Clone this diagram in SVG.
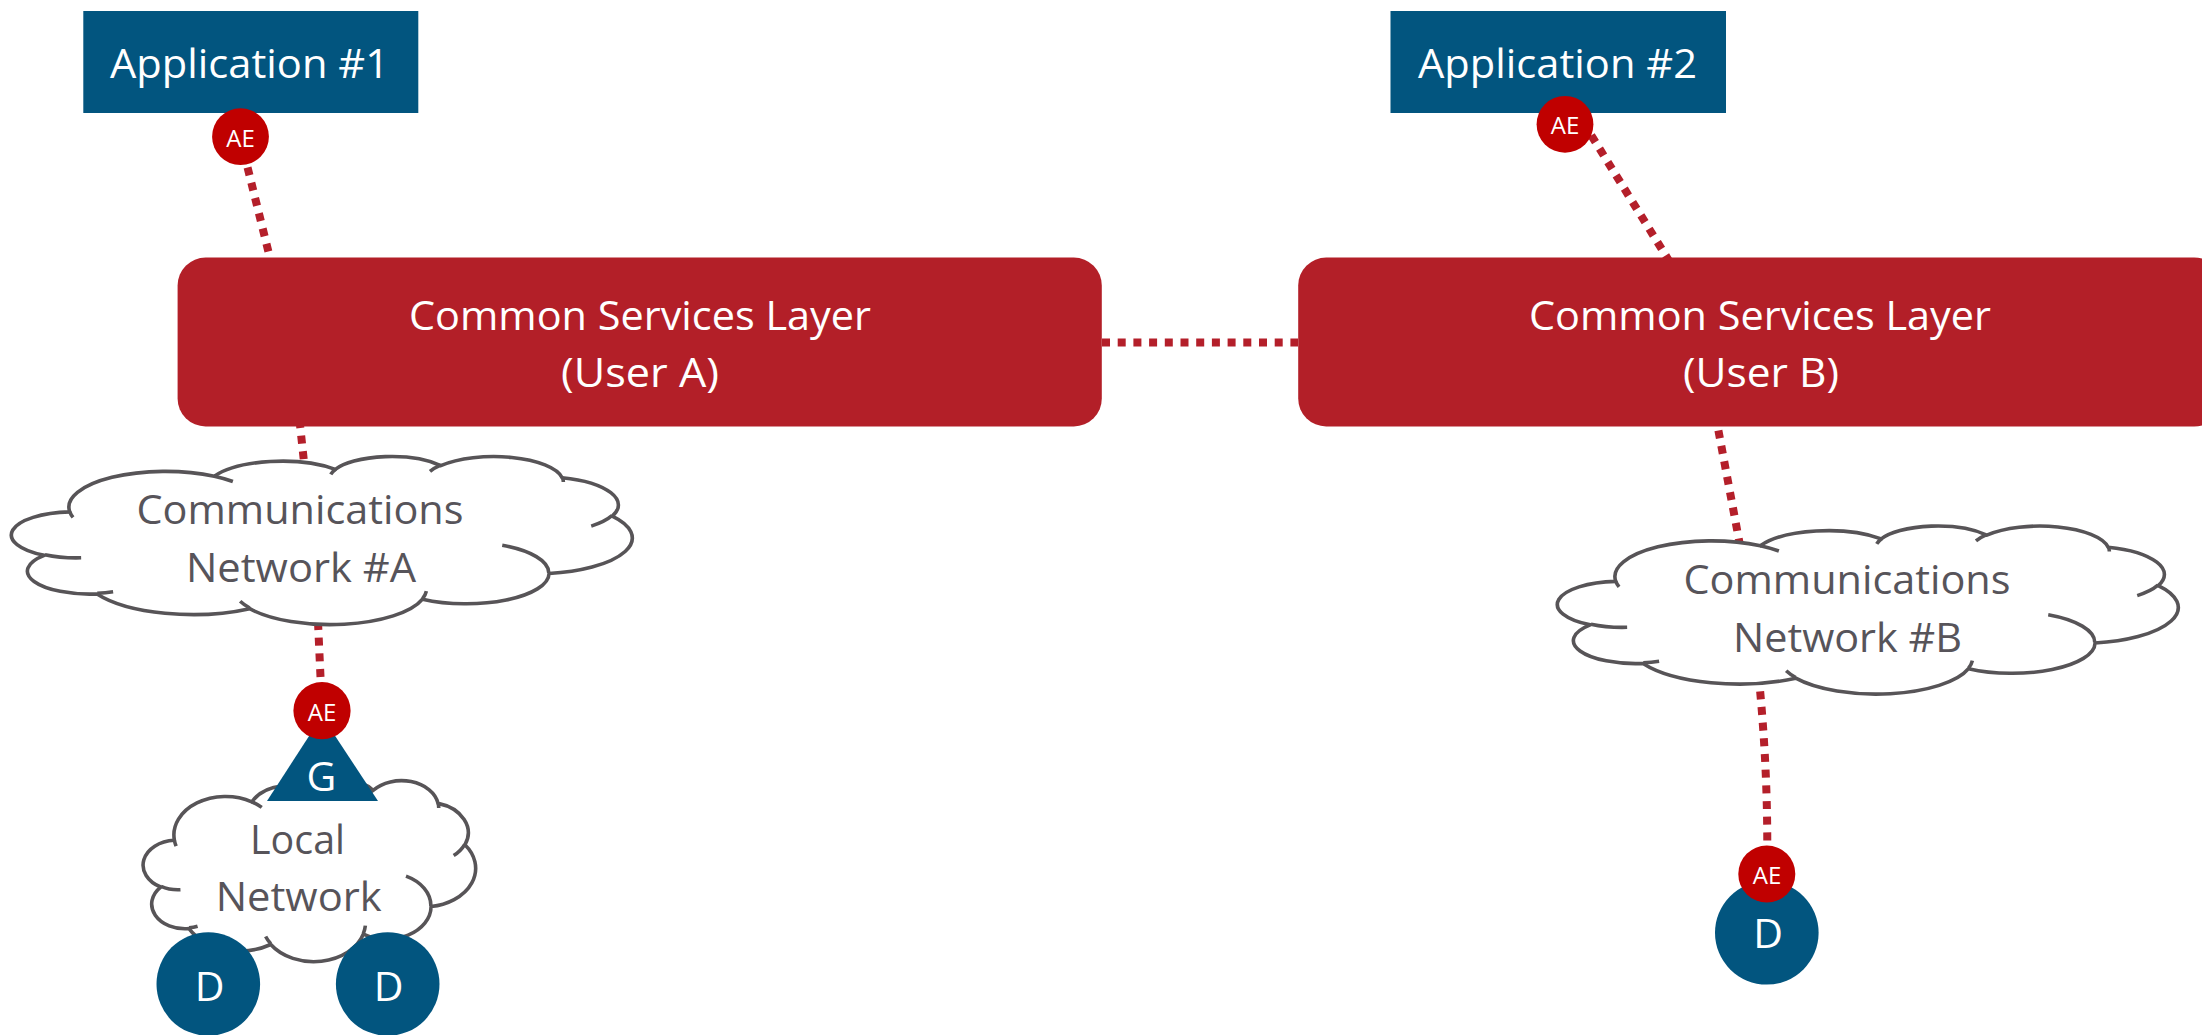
<svg xmlns="http://www.w3.org/2000/svg" xmlns:xlink="http://www.w3.org/1999/xlink" width="2202" height="1035" viewBox="0 0 2202 1035">
  <style>
    .app { fill: #02557F; }
    .csl { fill: #B31F28; }
    .ae { fill: #C00000; }
    .dev { fill: #02557F; }
    .cloud { fill: #FFFFFF; stroke: #575457; stroke-width: 3.6; stroke-linejoin: round; }
    .fold { fill: none; stroke: #575457; stroke-width: 3.6; }
    .link { fill: none; stroke: #B41F2A; stroke-width: 8; stroke-dasharray: 8 7.7; }
    text { font-family: "Open Sans", "Noto Sans", "Liberation Sans", sans-serif; text-anchor: middle; }
    .lbl-w { fill: #FFFFFF; font-size: 41px; }
    .lbl-g { fill: #57545A; font-size: 41px; }
    .lbl-ae { fill: #FFFFFF; font-size: 24px; }
  </style>
  <defs>
    <!-- cloud outline in a 43200 x 43200 unit box -->
    <path id="cloud-shape" vector-effect="non-scaling-stroke" d="M3900 14370A6753 9190 0 0 1 14005 5202A5333 7267 0 0 1 22456 3432A4365 5945 0 0 1 29833 2481A4857 6595 0 0 1 38318 5576A5333 7273 0 0 1 41818 15460A6775 9220 0 0 1 37404 30203A5785 7867 0 0 1 28556 36813A6752 9215 0 0 1 16480 39264A7720 10543 0 0 1 5805 35470A4360 5918 0 0 1 2113 25548A4345 5945 0 0 1 3900 14370Z"/>
    <!-- short inner strokes where the puffs overlap -->
    <path id="cloud-folds" vector-effect="non-scaling-stroke" d="M4693 26177A4345 5945 0 0 1 2160 25380M6928 34899A4360 5918 0 0 1 5820 35281M16478 39090A6752 9215 0 0 1 15810 37350M28827 34751A6752 9215 0 0 1 28560 36660M34129 22954A5785 7867 0 0 1 37380 30090M41798 15354A5333 7273 0 0 1 40350 18030M38324 5426A4857 6595 0 0 1 38400 6690M29078 3952A4857 6595 0 0 1 29820 2340M22141 4720A4365 5945 0 0 1 22500 3329M14000 5192A6753 9190 0 0 1 15300 6541M4127 15789A6753 9190 0 0 1 3900 14370"/>
  </defs>

  <g id="connectors">
    <path class="link" d="M240 137L271 262"/>
    <path class="link" d="M299.5 420L304 462"/>
    <path class="link" d="M318 622L322 710"/>
    <path class="link" d="M1102 342.5L1298 342.5"/>
    <path class="link" d="M1583 122L1671 264"/>
    <path class="link" d="M1715.5 415L1740.5 548"/>
    <path class="link" d="M1757 660Q1769 770 1767 874"/>
  </g>

  <g id="application-1">
    <rect class="app" x="83.3" y="11" width="335" height="102"/>
    <text class="lbl-w" x="249.5" y="78" textLength="279" lengthAdjust="spacingAndGlyphs">Application #1</text>
  </g>
  <g id="ae-application-1">
    <circle class="ae" cx="240.5" cy="136.7" r="28.4"/>
    <text class="lbl-ae" x="240.5" y="146.5">AE</text>
  </g>

  <g id="application-2">
    <rect class="app" x="1390.5" y="11" width="335.5" height="102"/>
    <text class="lbl-w" x="1557.5" y="78" textLength="279" lengthAdjust="spacingAndGlyphs">Application #2</text>
  </g>
  <g id="ae-application-2">
    <circle class="ae" cx="1565" cy="124.3" r="28.4"/>
    <text class="lbl-ae" x="1565" y="134">AE</text>
  </g>

  <g id="csl-user-a">
    <rect class="csl" x="177.6" y="257.5" width="924.2" height="169" rx="28" ry="28"/>
    <text class="lbl-w" x="640" y="330" textLength="462" lengthAdjust="spacingAndGlyphs">Common Services Layer</text>
    <text class="lbl-w" x="640" y="387" textLength="158" lengthAdjust="spacingAndGlyphs">(User A)</text>
  </g>

  <g id="csl-user-b">
    <rect class="csl" x="1298.2" y="257.5" width="924" height="169" rx="28" ry="28"/>
    <text class="lbl-w" x="1760" y="330" textLength="462" lengthAdjust="spacingAndGlyphs">Common Services Layer</text>
    <text class="lbl-w" x="1761" y="387" textLength="156" lengthAdjust="spacingAndGlyphs">(User B)</text>
  </g>

  <g id="network-a">
    <g transform="translate(14 456) scale(0.0143056 0.0038889)">
      <use xlink:href="#cloud-shape" class="cloud"/>
      <use xlink:href="#cloud-folds" class="fold"/>
    </g>
    <text class="lbl-g" x="300" y="524" textLength="327" lengthAdjust="spacingAndGlyphs">Communications</text>
    <text class="lbl-g" x="301" y="582" textLength="230" lengthAdjust="spacingAndGlyphs">Network #A</text>
  </g>

  <g id="network-b">
    <g transform="translate(1560 525.5) scale(0.0143056 0.0038889)">
      <use xlink:href="#cloud-shape" class="cloud"/>
      <use xlink:href="#cloud-folds" class="fold"/>
    </g>
    <text class="lbl-g" x="1847" y="594" textLength="327" lengthAdjust="spacingAndGlyphs">Communications</text>
    <text class="lbl-g" x="1847.5" y="652" textLength="229" lengthAdjust="spacingAndGlyphs">Network #B</text>
  </g>

  <g id="local-network">
    <g transform="translate(144.5 780) scale(0.007662 0.0041898)">
      <use xlink:href="#cloud-shape" class="cloud"/>
      <use xlink:href="#cloud-folds" class="fold"/>
    </g>
    <text class="lbl-g" x="297.5" y="854" textLength="95" lengthAdjust="spacingAndGlyphs">Local</text>
    <text class="lbl-g" x="298.7" y="911" textLength="166" lengthAdjust="spacingAndGlyphs">Network</text>
  </g>

  <g id="gateway">
    <polygon class="dev" points="322,716 378,801 267,801"/>
    <text class="lbl-w" x="321.5" y="791">G</text>
  </g>
  <g id="ae-gateway">
    <circle class="ae" cx="322" cy="710.7" r="28.6"/>
    <text class="lbl-ae" x="322" y="721">AE</text>
  </g>

  <g id="device-1">
    <circle class="dev" cx="208.3" cy="984" r="51.8"/>
    <text class="lbl-w" x="209.5" y="1001">D</text>
  </g>
  <g id="device-2">
    <circle class="dev" cx="387.7" cy="984" r="51.8"/>
    <text class="lbl-w" x="388.5" y="1001">D</text>
  </g>

  <g id="device-b">
    <circle class="dev" cx="1766.8" cy="932.8" r="51.8"/>
    <text class="lbl-w" x="1768" y="948">D</text>
  </g>
  <g id="ae-device-b">
    <circle class="ae" cx="1766.8" cy="874" r="28.5"/>
    <text class="lbl-ae" x="1767" y="884">AE</text>
  </g>
</svg>
